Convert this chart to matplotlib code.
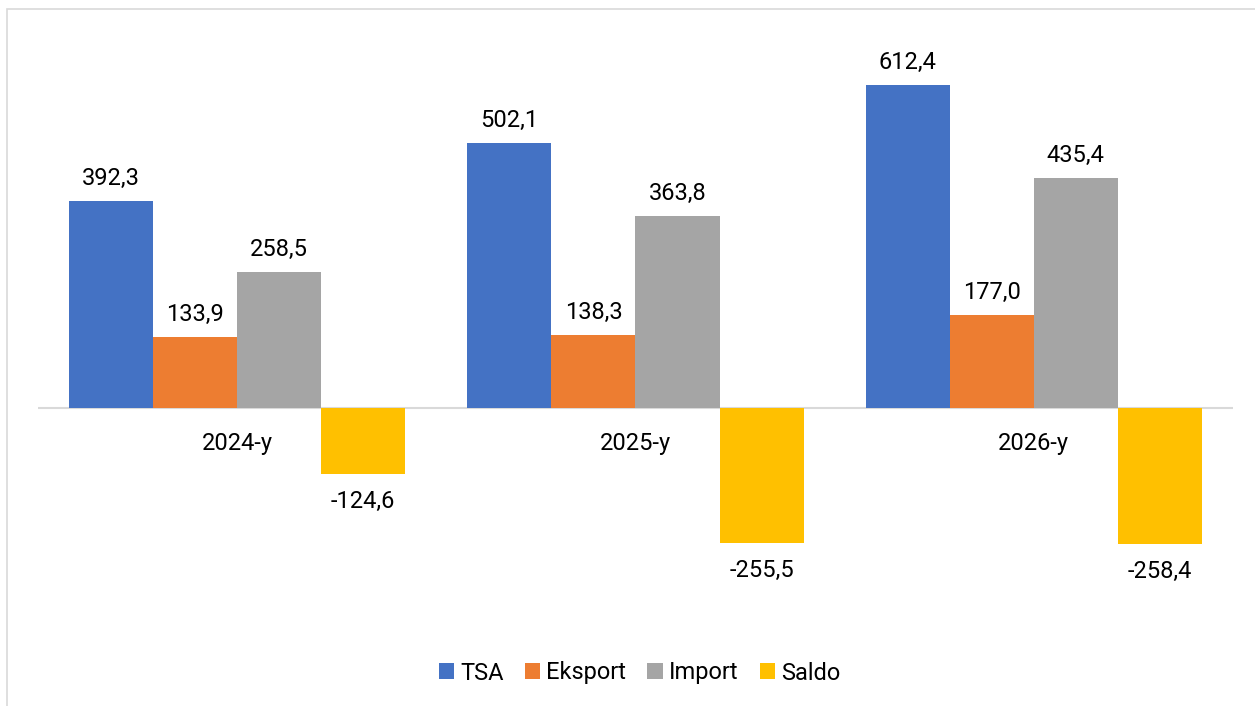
import matplotlib
matplotlib.use("Agg")
import matplotlib.pyplot as plt
from matplotlib.patches import Patch, Rectangle
import numpy as np

plt.rcParams['font.family'] = ['Roboto', 'DejaVu Sans']

categories = ["2024-y", "2025-y", "2026-y"]
series_names = ["TSA", "Eksport", "Import", "Saldo"]
tsa = [392.3, 502.1, 612.4]
eksport = [133.9, 138.3, 177.0]
import_ = [258.5, 363.8, 435.4]
saldo = [-124.6, -255.5, -258.4]
colors = ["#4472C4", "#ED7D31", "#A5A5A5", "#FFC000"]

W, H = 1255, 706
fig = plt.figure(figsize=(W / 100, H / 100), dpi=100)

# outer chart border (cropped on right/bottom)
fig.add_artist(Rectangle((7 / W, -0.1), 1.2, 1 - 9 / H + 0.1, transform=fig.transFigure,
                         fill=False, edgecolor="#D9D9D9", linewidth=1.2))

ymin, ymax = -400, 700
ppu = 0.5277
top_px = 408 - ymax * ppu
bot_px = 408 - ymin * ppu
ax = fig.add_axes([38 / W, 1 - bot_px / H, 1195 / W, (bot_px - top_px) / H])
ax.set_xlim(-0.5, 2.5)
ax.set_ylim(ymin, ymax)
ax.axis("off")

x = np.arange(len(categories))
bw = 84 / 398.3
data = [tsa, eksport, import_, saldo]
for k, (vals, c) in enumerate(zip(data, colors)):
    xs = x + (k - 1.5) * bw
    ax.bar(xs, vals, width=bw, color=c, zorder=2)
    for xi, v in zip(xs, vals):
        lab = f"{v:.1f}".replace(".", ",")
        if v >= 0:
            ax.annotate(lab, (xi, v), xytext=(0, 16 * 0.72), textcoords="offset points",
                        ha="center", va="baseline", fontsize=17, color="#000000")
        else:
            ax.annotate(lab, (xi, v), xytext=(0, -34 * 0.72), textcoords="offset points",
                        ha="center", va="baseline", fontsize=17, color="#000000")

ax.axhline(0, color="#D9D9D9", linewidth=1.5, zorder=1)

for xi, c in zip(x, categories):
    ax.annotate(c, (xi, 0), xytext=(0, -42 * 0.72), textcoords="offset points",
                ha="center", va="baseline", fontsize=17, color="#000000")

handles = [Patch(facecolor=c, edgecolor="none", label=n) for c, n in zip(colors, series_names)]
fig.legend(handles=handles, loc="center", bbox_to_anchor=(0.5 + 12 / W, 1 - 673 / H), ncol=4,
           frameon=False, fontsize=17, handlelength=0.65, handleheight=0.65,
           handletextpad=0.25, columnspacing=0.9)

fig.savefig("out.png", dpi=100)
